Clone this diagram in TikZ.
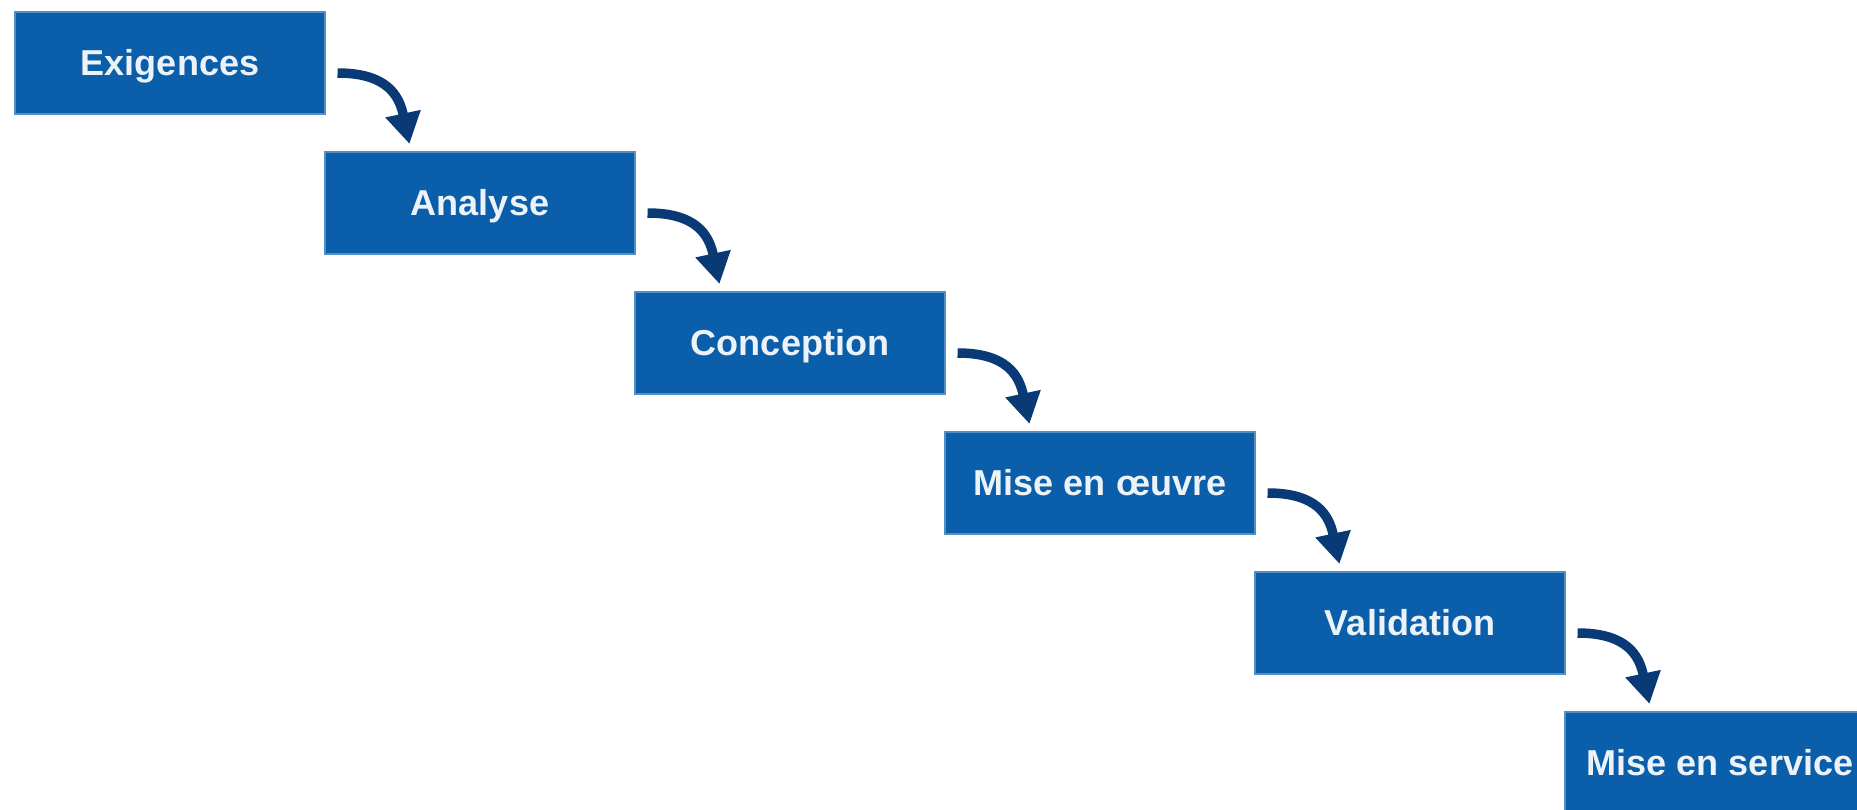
\documentclass[tikz,border=0pt]{standalone}
\usepackage{fontspec}
\setmainfont{Liberation Sans}
\usepackage{tikz}
\usetikzlibrary{arrows.meta}

\definecolor{stepblue}{RGB}{11,94,170}
\definecolor{flownavy}{RGB}{10,58,118}

\begin{document}
\begin{tikzpicture}[
  stepbox/.style={rectangle,fill=stepblue,draw=stepblue!70!white,line width=0.6pt,
    minimum width=6.2cm,minimum height=2.04cm,inner sep=0pt,
    text=white!92!stepblue,font=\fontsize{20.5}{24}\selectfont\bfseries,
    text height=14.7pt,text depth=0pt},
  flow/.style={draw=flownavy,line width=0.19cm,
    -{Triangle[length=0.62cm,width=0.68cm]}}]

% {page}
\useasboundingbox (0,0) rectangle (37.14,-16.18);

% {phases}
\node[stepbox] (exig) at (3.4,-1.26) {Exigences};
\node[stepbox] (anal) at (9.6,-4.06) {Analyse};
\node[stepbox] (conc) at (15.8,-6.86) {Conception};
\node[stepbox] (impl) at (22.0,-9.66) {Mise en œuvre};
\node[stepbox] (vali) at (28.2,-12.46) {Validation};
\node[stepbox] (serv) at (34.4,-15.26) {Mise en service};

% {transitions}
\draw[flow] ([xshift=0.24cm,yshift=-0.2cm]exig.east) to[out=0,in=102,looseness=1.25] ([xshift=1.7cm,yshift=0.15cm]anal.north west);
\draw[flow] ([xshift=0.24cm,yshift=-0.2cm]anal.east) to[out=0,in=102,looseness=1.25] ([xshift=1.7cm,yshift=0.15cm]conc.north west);
\draw[flow] ([xshift=0.24cm,yshift=-0.2cm]conc.east) to[out=0,in=102,looseness=1.25] ([xshift=1.7cm,yshift=0.15cm]impl.north west);
\draw[flow] ([xshift=0.24cm,yshift=-0.2cm]impl.east) to[out=0,in=102,looseness=1.25] ([xshift=1.7cm,yshift=0.15cm]vali.north west);
\draw[flow] ([xshift=0.24cm,yshift=-0.2cm]vali.east) to[out=0,in=102,looseness=1.25] ([xshift=1.7cm,yshift=0.15cm]serv.north west);

\end{tikzpicture}
\end{document}
